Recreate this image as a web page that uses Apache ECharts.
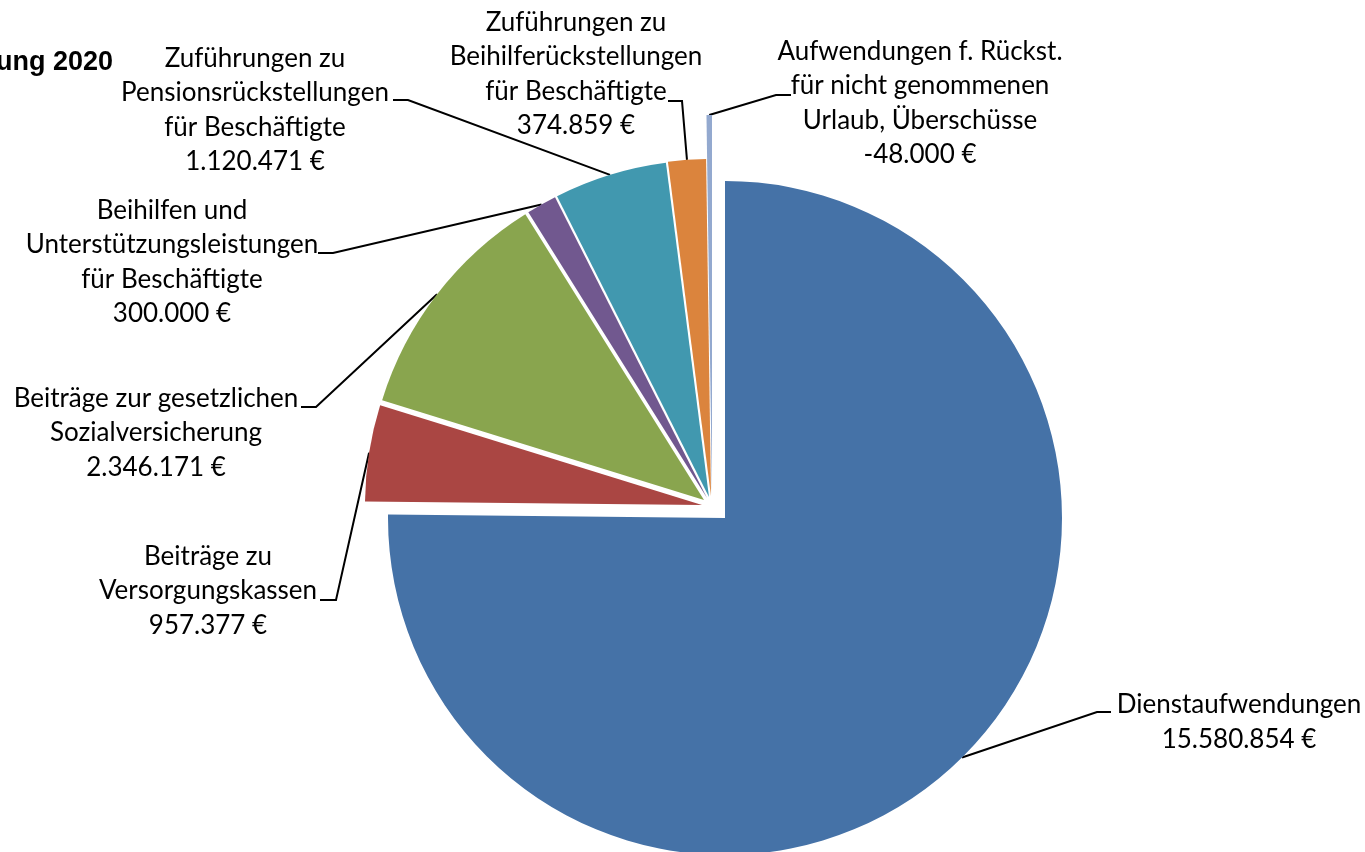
<!DOCTYPE html>
<html>
<head>
<meta charset="utf-8">
<script src="https://cdn.jsdelivr.net/npm/echarts@6/dist/echarts.min.js"></script>
<style>
  html, body { margin: 0; padding: 0; background: #fff; }
  #chart { width: 1365px; height: 852px; }
</style>
</head>
<body>
<div id="chart"></div>
<script>
// data
const categories = [
  'Dienstaufwendungen',
  'Beiträge zu\nVersorgungskassen',
  'Beiträge zur gesetzlichen\nSozialversicherung',
  'Beihilfen und\nUnterstützungsleistungen\nfür Beschäftigte',
  'Zuführungen zu\nPensionsrückstellungen\nfür Beschäftigte',
  'Zuführungen zu\nBeihilferückstellungen\nfür Beschäftigte',
  'Aufwendungen f. Rückst.\nfür nicht genommenen\nUrlaub, Überschüsse'
]
const amounts = [15580854, 957377, 2346171, 300000, 1120471, 374859, -48000]
const colors = ['#4572a7', '#aa4643', '#89a54e', '#71588f', '#4198af', '#db843d', '#93a9cf']

// layout (exploded slices, label spots, leader line elbows)
const sliceCenters = [[725, 518], [702, 505], [704, 500], [707, 498], [709, 497], [711, 496], [712, 495]]
const sliceRadius = [337, 337, 337, 337, 337, 337, 380]
const labelPos = [[1239, 722], [208, 591], [156, 433], [172, 262], [255, 110], [576, 74], [920, 103]]
const elbows = [
  [[1097, 712], [1111, 712]],
  [[336, 600], [320, 600]],
  [[316, 407], [301, 407]],
  [[333, 253], [318, 253]],
  [[408, 100], [393, 100]],
  [[682, 101], [668, 101]],
  [[776, 95], [791, 95]]
]

const euro = v => (v < 0 ? '-' : '') + Math.abs(v).toString().replace(/\B(?=(\d{3})+(?!\d))/g, '.') + ' €'

const total = amounts.reduce((s, v) => s + Math.abs(v), 0)
// mid angle of every slice, clockwise from 12 o'clock
const midAngles = []
let acc = 0
amounts.forEach(v => {
  const a = Math.abs(v) / total * 2 * Math.PI
  midAngles.push(acc + a / 2)
  acc += a
})

const chart = echarts.init(document.getElementById('chart'))

// one pie per slice so every slice can sit on its own exploded centre
const series = categories.map((_, k) => ({
  type: 'pie',
  silent: true,
  center: sliceCenters[k],
  radius: [0, sliceRadius[k]],
  startAngle: 90,
  clockwise: true,
  avoidLabelOverlap: false,
  emphasis: { disabled: true },
  label: {
    color: '#000',
    fontFamily: 'Lato',
    fontSize: 26,
    lineHeight: 34.5,
    align: 'center',
    formatter: p => p.name + '\n' + euro(amounts[p.dataIndex])
  },
  labelLine: { lineStyle: { color: '#000', width: 2 } },
  labelLayout: p => {
    const i = p.dataIndex
    if (i !== k) return {}
    const c = sliceCenters[i], r = sliceRadius[i], a = midAngles[i]
    const start = [c[0] + r * Math.sin(a), c[1] - r * Math.cos(a)]
    return {
      x: labelPos[i][0],
      y: labelPos[i][1],
      align: 'center',
      verticalAlign: 'middle',
      labelLinePoints: [start, elbows[i][0], elbows[i][1]]
    }
  },
  data: categories.map((name, j) => ({
    name: name,
    value: Math.abs(amounts[j]),
    itemStyle: { color: j === k ? colors[j] : 'rgba(0,0,0,0)' },
    label: { show: j === k },
    labelLine: { show: j === k }
  }))
}))

chart.setOption({
  animation: false,
  title: {
    text: 'Personalaufwendungen Planung 2020',
    right: 1252,
    top: 49,
    padding: 0,
    textStyle: { fontFamily: 'Liberation Sans', fontWeight: 'bold', fontSize: 27, color: '#000' }
  },
  series: series
})
</script>
</body>
</html>
